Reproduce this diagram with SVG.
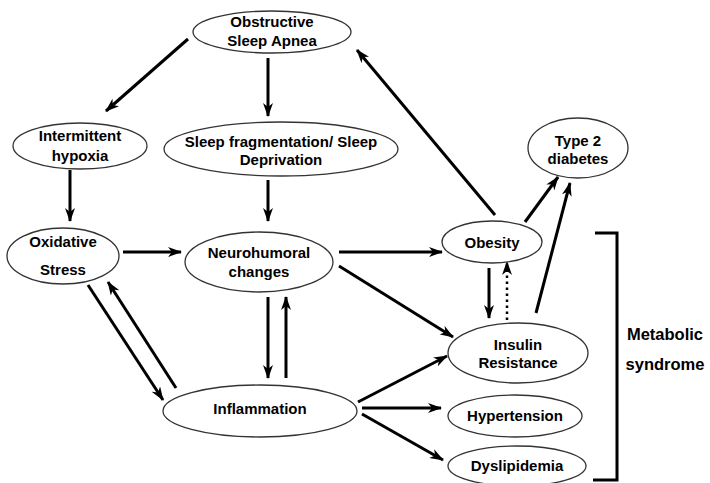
<svg xmlns="http://www.w3.org/2000/svg" width="710" height="483" viewBox="0 0 710 483">
<defs>
<marker id="ah" viewBox="0 0 14 10" refX="13" refY="5" markerWidth="14" markerHeight="10" markerUnits="userSpaceOnUse" orient="auto">
<path d="M0,0 L14,5 L0,10 L4,5 z" fill="#000"/>
</marker>
<style>
.n ellipse{fill:#fff;stroke:#333;stroke-width:1.3}
.n text{font-family:"Liberation Sans",Arial,sans-serif;font-weight:bold;font-size:15px;text-anchor:middle;fill:#000}
.c line{stroke:#000;stroke-width:3;marker-end:url(#ah)}
.c .d{stroke-dasharray:2.5,3.5;stroke-width:2.5}
.c .p{fill:none;stroke:#000;stroke-width:3}
.lbl{font-family:"Liberation Sans",Arial,sans-serif;font-weight:bold;font-size:16.5px;text-anchor:middle}
</style>
</defs>
<rect width="710" height="483" fill="#fff"/>
<g class="c" id="connectors">
<line x1="188" y1="39" x2="106" y2="111"/>
<line x1="268" y1="58" x2="268" y2="116"/>
<line x1="70" y1="170" x2="70" y2="221"/>
<line x1="268" y1="180" x2="268" y2="221"/>
<line x1="123" y1="252" x2="181" y2="252"/>
<line x1="88" y1="285" x2="163" y2="400"/>
<line x1="176" y1="388" x2="108" y2="282"/>
<line x1="268" y1="297" x2="268" y2="378"/>
<line x1="286" y1="378" x2="286" y2="297"/>
<line x1="339" y1="252" x2="442" y2="252"/>
<line x1="339" y1="266" x2="453" y2="337"/>
<line x1="358" y1="402" x2="447" y2="356"/>
<line x1="362" y1="408" x2="441" y2="408"/>
<line x1="362" y1="414" x2="443" y2="460"/>
<line x1="495" y1="215" x2="357" y2="50"/>
<line x1="525" y1="222" x2="558" y2="177"/>
<line x1="536" y1="313" x2="570" y2="183"/>
<line x1="489" y1="268" x2="489" y2="318"/>
<line class="d" x1="507" y1="320" x2="507" y2="262"/>
<path class="p" d="M595,233 H617 V480 H593"/>
</g>
<g class="n" id="osa"><ellipse cx="272" cy="32" rx="79" ry="21"/><text x="272" y="27">Obstructive</text><text x="272" y="46">Sleep Apnea</text></g>
<g class="n" id="hypoxia"><ellipse cx="80" cy="146" rx="67" ry="23"/><text x="80" y="141">Intermittent</text><text x="80" y="161">hypoxia</text></g>
<g class="n" id="sleepfrag"><ellipse cx="281" cy="149" rx="117" ry="27"/><text x="281" y="147">Sleep fragmentation/ Sleep</text><text x="281" y="165">Deprivation</text></g>
<g class="n" id="oxidative"><ellipse cx="63" cy="256" rx="56" ry="28"/><text x="63" y="247">Oxidative</text><text x="63" y="275">Stress</text></g>
<g class="n" id="neuro"><ellipse cx="259" cy="262" rx="74" ry="30"/><text x="259" y="258">Neurohumoral</text><text x="259" y="277">changes</text></g>
<g class="n" id="inflammation"><ellipse cx="260" cy="411" rx="97" ry="26"/><text x="260" y="414">Inflammation</text></g>
<g class="n" id="obesity"><ellipse cx="492" cy="242" rx="50" ry="21"/><text x="492" y="248">Obesity</text></g>
<g class="n" id="t2d"><ellipse cx="578" cy="148" rx="50" ry="30"/><text x="578" y="146">Type 2</text><text x="578" y="164">diabetes</text></g>
<g class="n" id="insulin"><ellipse cx="518" cy="353" rx="70" ry="30"/><text x="518" y="350">Insulin</text><text x="518" y="368">Resistance</text></g>
<g class="n" id="hypertension"><ellipse cx="515" cy="416" rx="67" ry="21"/><text x="515" y="421">Hypertension</text></g>
<g class="n" id="dyslipidemia"><ellipse cx="517" cy="466" rx="69" ry="20"/><text x="517" y="471">Dyslipidemia</text></g>
<g id="metabolic"><text class="lbl" x="665" y="340">Metabolic</text><text class="lbl" x="665" y="370">syndrome</text></g>
</svg>
